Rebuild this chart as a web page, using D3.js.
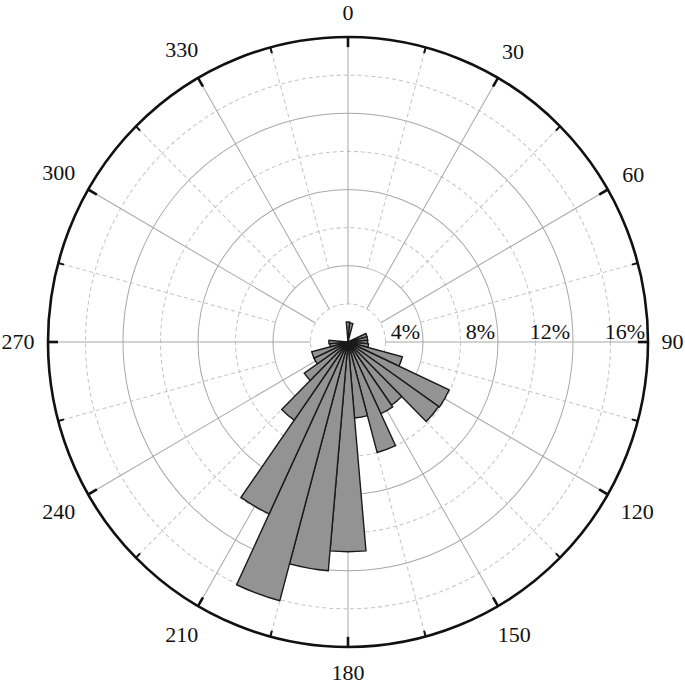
<!DOCTYPE html>
<html><head><meta charset="utf-8">
<script src="https://cdn.jsdelivr.net/npm/d3@7"></script>
<style>html,body{margin:0;padding:0;background:#fff;} svg{display:block;}</style>
</head><body>
<svg id="chart" width="685" height="685"></svg>
<script>
// ---- data ----
const binCenters = [0,10,20,30,40,50,60,70,80,90,100,110,120,130,140,150,160,170,
                    180,190,200,210,220,230,240,250,260,270,280,290,300,310,320,330,340,350];
const binPercent = [1.05,1.0,0,0,0,0,0,1.05,1.05,1.05,1.1,3.0,5.95,5.9,4.05,4.15,6.0,4.0,
                    11.0,12.05,14.05,9.95,5.0,2.85,2.0,2.0,0.97,1.02,0,0,0,0,0,0,0,0];
const angleTicks = [0,30,60,90,120,150,180,210,240,270,300,330];
const angleLabels = ["0","30","60","90","120","150","180","210","240","270","300","330"];
const minorTicks = [15,45,75,105,135,165,195,225,255,285,315,345];
const ringSolid = [4,8,12];
const ringDashed = [2,6,10,14];
const radialTicks = [4,8,12,16];
const radialLabels = ["4%","8%","12%","16%"];

// ---- layout ----
const cx = 348, cy = 342, R = 300, RY = 305;
const ys = RY / R;
const svg = d3.select("#chart");
const r = d3.scaleLinear().domain([0,16]).range([0,R]);
const rad = d => d * Math.PI / 180;

const g = svg.append("g").attr("transform", `translate(${cx},${cy}) scale(1,${ys})`);

// rings
g.selectAll("circle.dash").data(ringDashed).join("circle")
  .attr("r", d => r(d)).attr("fill","none")
  .attr("stroke","#c4c4c4").attr("stroke-width",1).attr("stroke-dasharray","4,3");
g.selectAll("circle.solid").data(ringSolid).join("circle")
  .attr("r", d => r(d)).attr("fill","none")
  .attr("stroke","#a8a8a8").attr("stroke-width",1);

// spokes
g.selectAll("line.minorSpoke").data(minorTicks).join("line")
  .attr("x1", d => r(4)*Math.sin(rad(d))).attr("y1", d => -r(4)*Math.cos(rad(d)))
  .attr("x2", d => R*Math.sin(rad(d))).attr("y2", d => -R*Math.cos(rad(d)))
  .attr("stroke","#c4c4c4").attr("stroke-width",1).attr("stroke-dasharray","4,3");
g.selectAll("line.majorSpoke").data(angleTicks).join("line")
  .attr("x1", d => r(2)*Math.sin(rad(d))).attr("y1", d => -r(2)*Math.cos(rad(d)))
  .attr("x2", d => R*Math.sin(rad(d))).attr("y2", d => -R*Math.cos(rad(d)))
  .attr("stroke","#a8a8a8").attr("stroke-width",1);

// bars
const bins = binCenters.map((a,i) => ({a, v: binPercent[i]})).filter(d => d.v > 0);
const arc = d3.arc()
  .innerRadius(0)
  .outerRadius(d => r(d.v))
  .startAngle(d => rad(d.a - 5))
  .endAngle(d => rad(d.a + 5));
g.selectAll("path.bar").data(bins).join("path")
  .attr("d", arc)
  .attr("fill","#939393").attr("stroke","#1a1a1a").attr("stroke-width",1.4)
  .attr("stroke-linejoin","miter");

// outer circle
g.append("circle").attr("r", R).attr("fill","none")
  .attr("stroke","#111").attr("stroke-width",2.6);

// ticks
g.selectAll("line.majorTick").data(angleTicks).join("line")
  .attr("x1", d => (R-10)*Math.sin(rad(d))).attr("y1", d => -(R-10)*Math.cos(rad(d)))
  .attr("x2", d => R*Math.sin(rad(d))).attr("y2", d => -R*Math.cos(rad(d)))
  .attr("stroke","#111").attr("stroke-width",2.6);
g.selectAll("line.minorTick").data(minorTicks).join("line")
  .attr("x1", d => (R-6)*Math.sin(rad(d))).attr("y1", d => -(R-6)*Math.cos(rad(d)))
  .attr("x2", d => R*Math.sin(rad(d))).attr("y2", d => -R*Math.cos(rad(d)))
  .attr("stroke","#111").attr("stroke-width",2);

// radial labels
svg.selectAll("text.rlab").data(radialTicks).join("text")
  .attr("x", d => cx + r(d) - 3).attr("y", cy - 3)
  .attr("text-anchor","end")
  .attr("font-family","'Liberation Serif','Times New Roman',serif")
  .attr("font-size",22).attr("fill","#111")
  .text((d,i) => radialLabels[i]);

// angle labels
const alab = svg.selectAll("text.alab").data(angleTicks).join("text")
  .attr("text-anchor","middle")
  .attr("font-family","'Liberation Serif','Times New Roman',serif")
  .attr("font-size",22).attr("fill","#111")
  .attr("dy","0.33em")
  .text((d,i) => angleLabels[i]);
alab.each(function(d){
  const w = this.getComputedTextLength();
  const h = 25;
  const s = Math.sin(rad(d)), c = Math.cos(rad(d));
  const dist = 13.5 + (w/2)*Math.abs(s) + (h/2)*Math.abs(c) - (c > 0.9 ? 1.5 : 0);
  d3.select(this)
    .attr("x", cx + (R + dist) * s)
    .attr("y", cy - (RY + dist) * c);
});
</script>
</body></html>
